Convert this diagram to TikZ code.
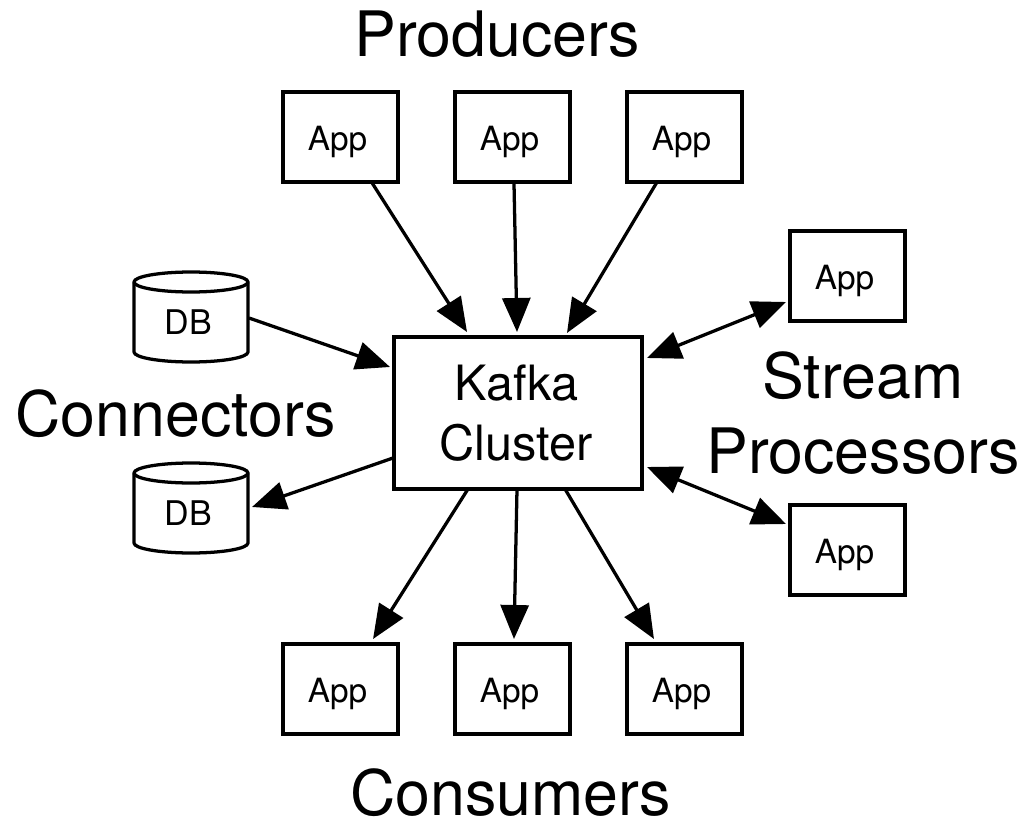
\documentclass[tikz,border=0pt]{standalone}
\usepackage{fontspec}
\setmainfont{TeX Gyre Heros}
\usetikzlibrary{arrows.meta}
\tikzset{
  x=0.75pt,y=-0.75pt,
  every node/.style={inner sep=0pt,outer sep=0pt},
  appbox/.style={draw,line width=2.45pt,minimum width=86.25pt,minimum height=67.5pt,text height=20.5pt,text depth=0pt,font=\fontsize{25}{30}\selectfont},
  kafkabox/.style={draw,line width=2.45pt,minimum width=186pt,minimum height=114pt,align=center,font=\fontsize{36.5}{45}\selectfont},
  dbnode/.style={minimum width=85.5pt,minimum height=67.5pt,text height=25.5pt,text depth=0pt,font=\fontsize{25.5}{30}\selectfont},
  dbshape/.style={line width=2.45pt,line join=round},
  titlelabel/.style={anchor=base,font=\fontsize{47}{47}\selectfont},
  link/.style={line width=2.45pt,-{Triangle[length=25.5pt,width=21pt]}},
  biglink/.style={line width=2.45pt,{Triangle[length=25.5pt,width=21pt]}-{Triangle[length=25.5pt,width=21pt]}},
}
\newcommand{\cylinderat}[1]{%
  \draw[dbshape] (#1.north west) ++(0pt,-7.5pt)
    arc[start angle=180,end angle=0,x radius=42.75pt,y radius=7.5pt]
    -- ([yshift=7.5pt]#1.south east)
    arc[start angle=0,end angle=-180,x radius=42.75pt,y radius=7.5pt]
    -- cycle;
  \draw[dbshape] ([yshift=-7.5pt]#1.north west)
    arc[start angle=180,end angle=360,x radius=42.75pt,y radius=7.5pt];
}
\begin{document}
\begin{tikzpicture}
\useasboundingbox (0,0) rectangle (1034,827);
\node[kafkabox] (k) at (518,413) {Kafka\kern2pt\\Cluster\kern3pt};
\node[appbox] (p1) at (340.5,137) {App\kern4.5pt};
\node[appbox] (p2) at (512.5,137) {App\kern4.5pt};
\node[appbox] (p3) at (684.5,137) {App\kern4.5pt};
\node[appbox] (c1) at (340.5,689) {App\kern4.5pt};
\node[appbox] (c2) at (512.5,689) {App\kern4.5pt};
\node[appbox] (c3) at (684.5,689) {App\kern4.5pt};
\node[appbox] (s1) at (847.5,276) {App\kern4.5pt};
\node[appbox] (s2) at (847.5,550) {App\kern4.5pt};
\node[dbnode] (d1) at (191,317) {DB\kern3.75pt};
\node[dbnode] (d2) at (191,508) {DB\kern3.75pt};
\cylinderat{d1}
\cylinderat{d2}
\node[titlelabel] (tp) at (497,57) {Producers};
\node[titlelabel] (tc) at (175.5,436) {Connectors};
\node[titlelabel] (ts) at (863,398) {Stream};
\node[titlelabel] (tq) at (863,473) {Processors};
\node[titlelabel] (tu) at (510.5,815) {Consumers};
\draw[link] ([xshift=23.25pt]p1.south) -- ([xshift=-38.25pt,yshift=3.75pt]k.north);
\draw[link] ([xshift=1.1pt]p2.south) -- ([xshift=-0.75pt,yshift=3.75pt]k.north);
\draw[link] ([xshift=-20.6pt]p3.south) -- ([xshift=36.75pt,yshift=3pt]k.north);
\draw[link] ([xshift=0.75pt,yshift=-0.75pt]d1.east) -- ([xshift=-3pt,yshift=-22.5pt]k.north west);
\draw[link] ([xshift=-0.75pt,yshift=23.25pt]k.south west) -- ([xshift=3pt,yshift=0.75pt]d2.east);
\draw[biglink] ([xshift=3.75pt,yshift=-15.75pt]k.north east) -- ([xshift=-3pt,yshift=-19.5pt]s1.west);
\draw[biglink] ([xshift=3.75pt,yshift=16.5pt]k.south east) -- ([xshift=-3pt,yshift=19.5pt]s2.west);
\draw[link] ([xshift=-37.5pt]k.south) -- ([xshift=24.4pt,yshift=3.75pt]c1.north);
\draw[link] ([xshift=-0.75pt]k.south) -- ([xshift=1.1pt,yshift=3.75pt]c2.north);
\draw[link] ([xshift=35.25pt]k.south) -- ([xshift=-22.9pt,yshift=3.75pt]c3.north);
\end{tikzpicture}
\end{document}
